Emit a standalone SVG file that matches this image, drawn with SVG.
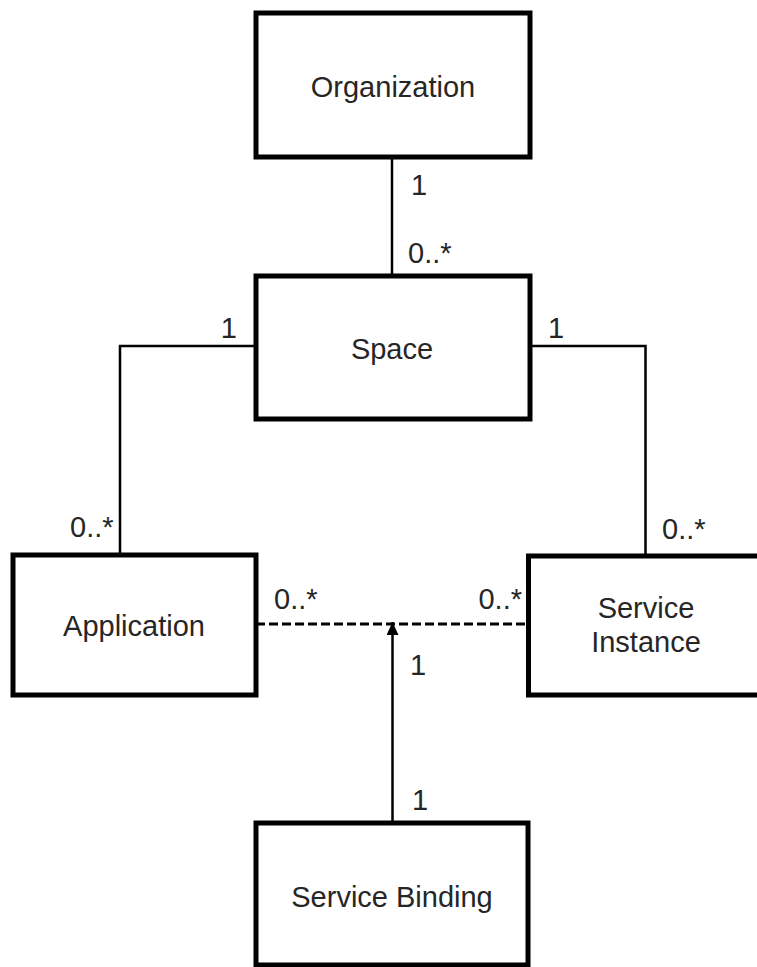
<svg xmlns="http://www.w3.org/2000/svg" width="757" height="967" viewBox="0 0 757 967">
<defs>
<style>
.box{fill:#fff;stroke:#000;stroke-width:5}
.t{font-family:"Liberation Sans",Arial,sans-serif;font-size:29px;fill:#262626}
.c{text-anchor:middle}
.e{text-anchor:end}
.ln{fill:none;stroke:#000;stroke-width:2.5}
.dash{stroke-dasharray:9 4;stroke-width:3}
</style>
<marker id="arr" viewBox="0 0 13 12" refX="13" refY="6" markerWidth="13" markerHeight="12" markerUnits="userSpaceOnUse" orient="auto">
<path d="M0,0 L13,6 L0,12 z" fill="#000"/>
</marker>
</defs>
<rect width="757" height="967" fill="#fff"/>
<g id="connectors">
<line class="ln" x1="392" y1="157" x2="392" y2="276"/>
<polyline class="ln" points="256,346 120,346 120,555"/>
<polyline class="ln" points="530,346 645.5,346 645.5,555"/>
<line class="ln dash" x1="256" y1="624" x2="528" y2="624"/>
<line class="ln" x1="392.5" y1="823" x2="392.5" y2="622" marker-end="url(#arr)"/>
<text class="t" x="411" y="195">1</text>
<text class="t" x="408" y="263">0..*</text>
<text class="t e" x="237" y="338">1</text>
<text class="t" x="548" y="338">1</text>
<text class="t" x="70" y="537">0..*</text>
<text class="t" x="662" y="539">0..*</text>
<text class="t" x="274" y="609">0..*</text>
<text class="t e" x="522" y="609">0..*</text>
<text class="t" x="410" y="675">1</text>
<text class="t" x="412" y="810">1</text>
</g>
<g id="organization">
<rect class="box" x="256" y="13" width="274" height="144"/>
<text class="t c" x="393" y="97">Organization</text>
</g>
<g id="space">
<rect class="box" x="256" y="276" width="274" height="143"/>
<text class="t c" x="392" y="359">Space</text>
</g>
<g id="application">
<rect class="box" x="13" y="555" width="243" height="140"/>
<text class="t c" x="134" y="636">Application</text>
</g>
<g id="service-instance">
<rect class="box" x="528.5" y="556" width="240" height="139"/>
<text class="t c" x="646" y="618">Service</text>
<text class="t c" x="646" y="652">Instance</text>
</g>
<g id="service-binding">
<rect class="box" x="256" y="823" width="272" height="142"/>
<text class="t c" x="392" y="907">Service Binding</text>
</g>
</svg>
